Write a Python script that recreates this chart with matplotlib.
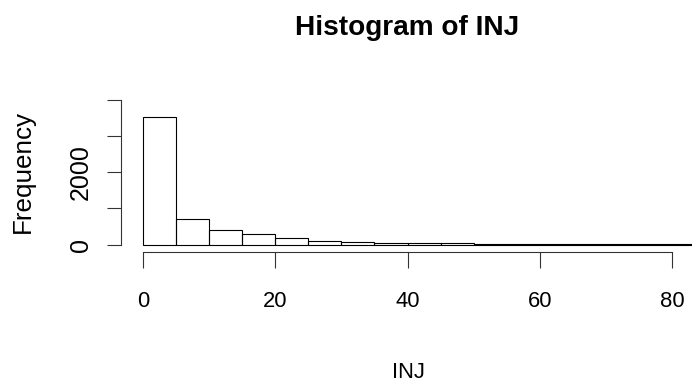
import numpy as np
import matplotlib
matplotlib.use("Agg")
import matplotlib.pyplot as plt

plt.rcParams['font.family'] = ['Liberation Sans', 'DejaVu Sans']

# histogram of INJ, bins of width 5
bin_edges = np.arange(0, 90, 5)
counts = [3520, 700, 390, 285, 185, 105, 70, 55, 40, 30, 20, 15, 12, 10, 8, 6, 5]
x_ticks = [0, 20, 40, 60, 80]
y_ticks = [0, 1000, 2000, 3000, 4000]
y_ticklabels = ['0', '', '2000', '', '']

W, H = 692, 385
# dpi 72 so that points == pixels
fig = plt.figure(figsize=(W / 72, H / 72), dpi=72)

# pixel layout
x0_px, xscale = 143, 6.6125      # x=0 at 143 px, px per unit
y0_px, yscale = 244.5, 0.036125  # y=0 at 244.5 px, px per count
ax_left, ax_bottom, ax_top = 121, 252, 100

ax = fig.add_axes([ax_left / W, 1 - ax_bottom / H, (W - ax_left) / W, (ax_bottom - ax_top) / H])
ax.set_xlim(-(x0_px - ax_left) / xscale, (W - x0_px) / xscale)
ax.set_ylim(-(ax_bottom - y0_px) / yscale, (y0_px - ax_top) / yscale)

ax.bar(bin_edges[:-1], counts, width=5, align='edge', fill=False,
       edgecolor='black', linewidth=1.1)

for s in ['top', 'right']:
    ax.spines[s].set_visible(False)
ax.spines['left'].set_bounds(0, 4000)
ax.spines['bottom'].set_bounds(0, 80)
for s in ['left', 'bottom']:
    ax.spines[s].set_linewidth(1.1)
    ax.spines[s].set_color('#333333')

ax.set_xticks(x_ticks)
ax.set_xticklabels([str(t) for t in x_ticks])
ax.set_yticks(y_ticks)
ax.set_yticklabels(y_ticklabels, rotation=90, va='center')
ax.tick_params(axis='both', width=1.1, color='#333333')
ax.tick_params(axis='x', length=16, pad=23, labelsize=22)
ax.tick_params(axis='y', length=14, pad=14, labelsize=25)

fig.text(407 / W, 1 - 35 / H, 'Histogram of INJ', ha='center', va='baseline',
         fontsize=28, fontweight='bold')
fig.text(408 / W, 1 - 372 / H, 'INJ', ha='center', va='center', fontsize=22)
fig.text(23 / W, 1 - 172 / H, 'Frequency', ha='center', va='center',
         rotation=90, fontsize=26)

fig.savefig('out.png', dpi=72)
